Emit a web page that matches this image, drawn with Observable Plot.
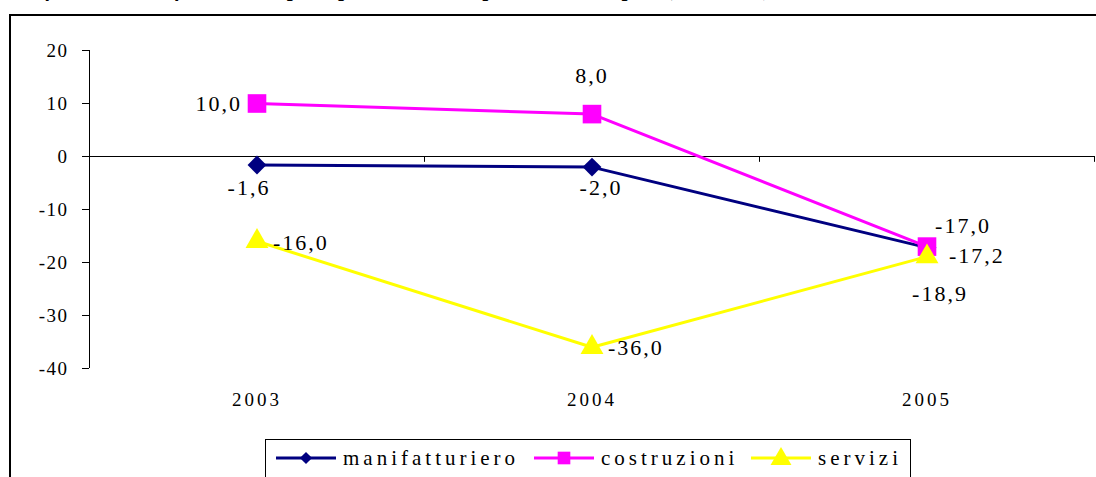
<!DOCTYPE html>
<html>
<head>
<meta charset="utf-8">
<script src="https://cdn.jsdelivr.net/npm/d3@7"></script>
<script src="https://cdn.jsdelivr.net/npm/@observablehq/plot@0.6"></script>
<style>
  html, body { margin: 0; padding: 0; background: #fff; overflow: hidden; }
  #wrap { position: relative; width: 1096px; height: 477px; overflow: hidden; font-family: "Liberation Serif", serif; }
  #title { position: absolute; left: 12px; top: -23px; white-space: nowrap; font-style: italic; font-weight: bold; font-size: 21px; color: #000; }
  #frame { position: absolute; left: 9px; top: 14px; width: 1200px; height: 600px; border: 2px solid #000; box-sizing: border-box; }
  #chart { position: absolute; left: 0; top: 0; }
  #chart svg, #chart svg text { font-family: "Liberation Serif", serif !important; }
  #chart g[aria-label="y-axis tick label"] text { letter-spacing: 1.5px; }
  #chart g[aria-label="x-axis tick label"] text { letter-spacing: 3px; }
  #chart g[aria-label="text"] text { letter-spacing: 2px; }
  #legend { position: absolute; left: 265px; top: 439px; width: 646px; height: 60px; border: 1px solid #000; box-sizing: border-box; background: #fff; }
  #legend svg { position: absolute; top: 6px; display: block; }
  #legend span { position: absolute; top: 6px; font-size: 21px; line-height: 24px; letter-spacing: 4px; white-space: nowrap; }
</style>
</head>
<body>
<div id="wrap">
  <div id="title">Graf. 3 – Saldi del fatturato nei principali settori della provincia di Trapani (2003-2005)</div>
  <div id="frame"></div>
  <div id="chart"></div>
  <div id="legend"></div>
</div>
<script>
const years = [2003, 2004, 2005];
const seriesNames = ["manifatturiero", "costruzioni", "servizi"];
const manifatturiero = [-1.6, -2.0, -17.2];
const costruzioni = [10.0, 8.0, -17.0];
const servizi = [-16.0, -36.0, -18.9];
const yTicks = [20, 10, 0, -10, -20, -30, -40];

const colors = { manifatturiero: "#000080", costruzioni: "#FF00FF", servizi: "#FFFF00" };
const symbols = { manifatturiero: "diamond2", costruzioni: "square", servizi: "triangle" };
const radii = { manifatturiero: 8.5, costruzioni: 10.5, servizi: 8.5 };

const valuesBy = { manifatturiero, costruzioni, servizi };
const data = [];
for (const s of seriesNames) years.forEach((yr, i) => data.push({ series: s, year: yr, value: valuesBy[s][i] }));

// label placement offsets (pixels) per series/year
const labelOffsets = {
  "costruzioni-2003": { dx: -15, dy: 0, anchor: "end" },
  "costruzioni-2004": { dx: 0, dy: -38, anchor: "middle" },
  "costruzioni-2005": { dx: 36, dy: -21, anchor: "middle" },
  "manifatturiero-2003": { dx: -8, dy: 23, anchor: "middle" },
  "manifatturiero-2004": { dx: 9, dy: 21, anchor: "middle" },
  "manifatturiero-2005": { dx: 22, dy: 8, anchor: "start" },
  "servizi-2003": { dx: 16, dy: 2, anchor: "start" },
  "servizi-2004": { dx: 16, dy: 1, anchor: "start" },
  "servizi-2005": { dx: 13, dy: 37, anchor: "middle" }
};
const fmt = v => v.toFixed(1).replace(".", ",");
const font = "Liberation Serif, serif";

const labelMarks = Object.entries(labelOffsets).map(([k, o]) => {
  const [s, y] = k.split("-");
  const d = data.filter(e => e.series === s && e.year === +y);
  return Plot.text(d, { x: "year", y: "value", text: e => fmt(e.value), dx: o.dx, dy: o.dy, textAnchor: o.anchor, fontSize: 22, fontFamily: font, fill: "#000" });
});

const chart = Plot.plot({
  width: 1096,
  height: 477,
  marginLeft: 89,
  marginRight: 2,
  marginTop: 50,
  marginBottom: 109,
  style: { fontFamily: font, fontSize: "19px", background: "transparent" },
  x: { type: "linear", domain: [years[0] - 0.5, years[years.length - 1] + 0.5] },
  y: { domain: [yTicks[yTicks.length - 1], yTicks[0]] },
  marks: [
    Plot.ruleX([years[0] - 0.5], { y1: yTicks[yTicks.length - 1], y2: yTicks[0], stroke: "#000", strokeWidth: 1 }),
    Plot.ruleY([0], { stroke: "#000", strokeWidth: 1.2 }),
    Plot.ruleX(years.map(y => y + 0.5), { y1: 0, y2: -1.1, stroke: "#000", strokeWidth: 1 }),
    Plot.axisY({ ticks: yTicks, tickSize: 7, tickPadding: 14, tickFormat: d => String(d), label: null, fontSize: 19, fontFamily: font }),
    Plot.axisX({ ticks: years, tickSize: 0, tickPadding: 24, tickFormat: d => String(d), label: null, fontSize: 19, fontFamily: font }),
    Plot.line(data, { x: "year", y: "value", z: "series", stroke: d => colors[d.series], strokeWidth: 3 }),
    ...seriesNames.map(s => Plot.dot(data.filter(d => d.series === s), { x: "year", y: "value", symbol: () => symbols[s], r: radii[s], fill: colors[s], stroke: "none" })),
    ...labelMarks
  ]
});
document.getElementById("chart").appendChild(chart);

// legend
const legend = document.getElementById("legend");
const legendLine = { manifatturiero: 10, costruzioni: 268, servizi: 485 };
const legendText = { manifatturiero: 77, costruzioni: 335, servizi: 552 };
for (const s of seriesNames) {
  const svg = d3.create("svg").attr("width", 62).attr("height", 24).style("left", legendLine[s] + "px");
  svg.append("line").attr("x1", 0).attr("x2", 60).attr("y1", 12).attr("y2", 12).attr("stroke", colors[s]).attr("stroke-width", 3);
  const sym = s === "manifatturiero" ? d3.symbolDiamond2 : s === "costruzioni" ? d3.symbolSquare : d3.symbolTriangle;
  const size = s === "manifatturiero" ? 95 : s === "costruzioni" ? 160 : 190;
  svg.append("path").attr("d", d3.symbol(sym, size)()).attr("transform", `translate(30,${s === "servizi" ? 13 : 12})`).attr("fill", colors[s]);
  legend.appendChild(svg.node());
  const t = document.createElement("span");
  t.textContent = s;
  t.style.left = legendText[s] + "px";
  legend.appendChild(t);
}
</script>
</body>
</html>
